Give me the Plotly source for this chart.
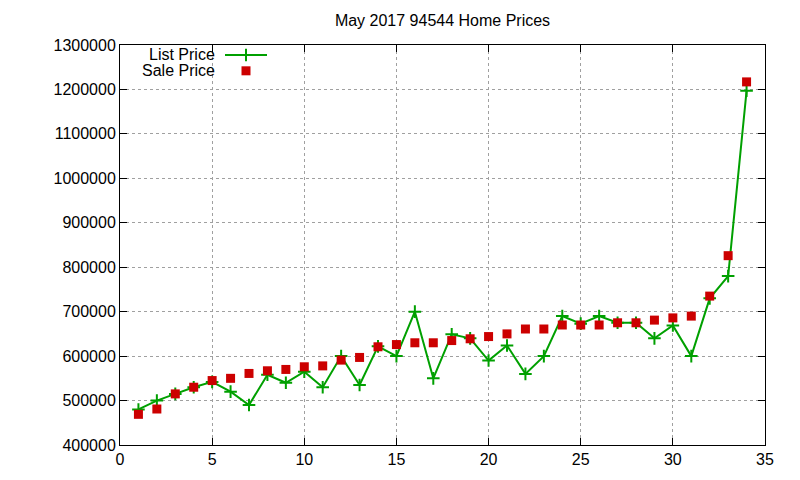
import plotly.graph_objects as go

x_vals = list(range(1, 35))
list_price = [480000, 500000, 515000, 530000, 542000, 520000, 490000, 558000, 540000, 565000,
              530000, 600000, 535000, 622000, 600000, 700000, 550000, 649000, 640000, 590000,
              624000, 560000, 600000, 690000, 673000, 690000, 675000, 675000, 640000, 669000,
              600000, 730000, 780000, 1197000]
sale_price = [469000, 481000, 515000, 530000, 545000, 550000, 561000, 567000, 570000, 576000,
              578000, 591000, 597000, 621000, 626000, 630000, 630000, 635000, 639000, 644000,
              650000, 661000, 661000, 670000, 670000, 670000, 675000, 675000, 681000, 686000,
              690000, 735000, 826000, 1217000]
x_ticks = [0, 5, 10, 15, 20, 25, 30, 35]
y_ticks = list(range(400000, 1300001, 100000))

GREEN = "#00A000"
RED = "#CC0000"
FONT = "Liberation Sans, Arial, sans-serif"
FS = 16

fig = go.Figure()
fig.add_trace(go.Scatter(
    x=x_vals, y=list_price, mode="lines+markers", name="List Price",
    line=dict(color=GREEN, width=2),
    marker=dict(symbol="cross-thin", size=9, line=dict(color=GREEN, width=2)),
    showlegend=False))
fig.add_trace(go.Scatter(
    x=x_vals, y=sale_price, mode="markers", name="Sale Price",
    marker=dict(symbol="square", size=9, color=RED),
    showlegend=False))

# legend glyphs in a pixel-coordinate overlay axis
fig.add_trace(go.Scatter(x=[225, 267], y=[55, 55], mode="lines", xaxis="x2", yaxis="y2",
                         line=dict(color=GREEN, width=2), showlegend=False, hoverinfo="skip"))
fig.add_trace(go.Scatter(x=[246], y=[55], mode="markers", xaxis="x2", yaxis="y2",
                         marker=dict(symbol="cross-thin", size=9, line=dict(color=GREEN, width=2)),
                         showlegend=False, hoverinfo="skip"))
fig.add_trace(go.Scatter(x=[246], y=[71], mode="markers", xaxis="x2", yaxis="y2",
                         marker=dict(symbol="square", size=9, color=RED),
                         showlegend=False, hoverinfo="skip"))

axis_common = dict(
    showline=True, linecolor="black", linewidth=1, mirror="allticks",
    ticks="inside", ticklen=7, tickcolor="black", tickwidth=1,
    showgrid=True, gridcolor="#a0a0a0", griddash="3px,3px", gridwidth=1,
    zeroline=False, tickfont=dict(family=FONT, size=FS, color="black"),
)

fig.update_layout(
    width=800, height=480,
    margin=dict(l=120, r=35, t=45, b=32),
    paper_bgcolor="white", plot_bgcolor="white",
    title=dict(text="May 2017 94544 Home Prices", x=0.5, xref="paper", xanchor="center",
               y=1 - 20 / 480, yref="container", yanchor="middle",
               font=dict(family=FONT, size=FS, color="black")),
    xaxis=dict(range=[0, 35], tickvals=x_ticks, **axis_common),
    yaxis=dict(range=[400000, 1300000], tickvals=y_ticks, tickformat="d", **axis_common),
    xaxis2=dict(range=[120, 765], overlaying="x", visible=False, fixedrange=True),
    yaxis2=dict(range=[448, 45], overlaying="y", visible=False, fixedrange=True),
    annotations=[
        dict(text="List Price", x=217, y=55, xref="x2", yref="y2", xanchor="right",
             yanchor="middle", showarrow=False, font=dict(family=FONT, size=FS, color="black")),
        dict(text="Sale Price", x=217, y=71, xref="x2", yref="y2", xanchor="right",
             yanchor="middle", showarrow=False, font=dict(family=FONT, size=FS, color="black")),
        dict(text="Price", x=13, y=246, xref="x2", yref="y2", textangle=-90,
             xanchor="center", yanchor="middle", showarrow=False,
             font=dict(family=FONT, size=FS, color="black")),
    ],
)

fig.write_html("out.html")
